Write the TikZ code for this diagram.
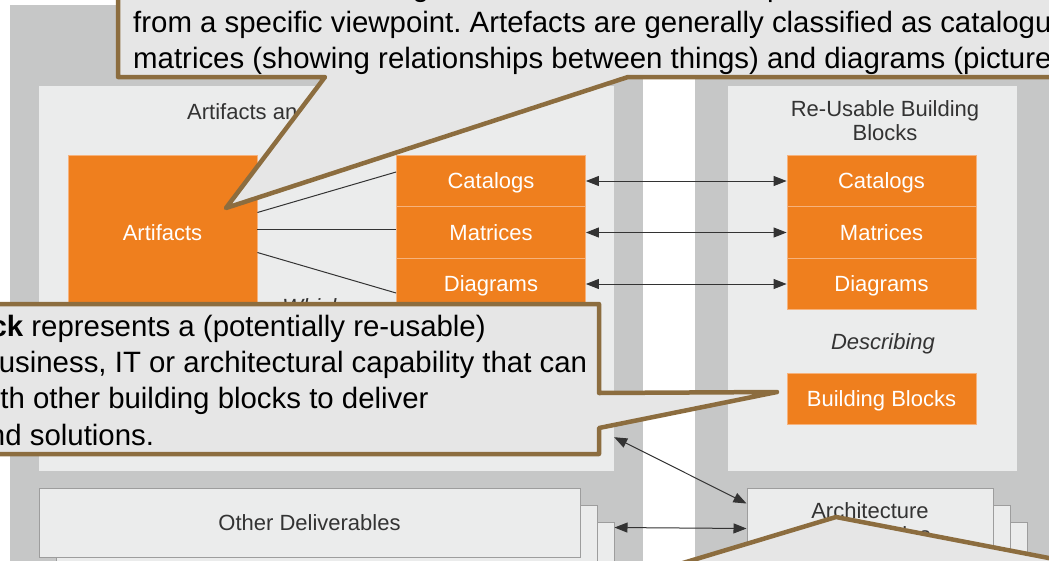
\documentclass[tikz,border=0pt]{standalone}
\usepackage{fontspec}
\setmainfont{Liberation Sans}
\usetikzlibrary{arrows.meta}
\frenchspacing

\definecolor{panelgray}{HTML}{C6C7C7}
\definecolor{panellight}{HTML}{EBECEC}
\definecolor{boxorange}{HTML}{EF7F1E}
\definecolor{rowline}{HTML}{F6B27C}
\definecolor{pageline}{HTML}{9D9D9D}
\definecolor{calloutfill}{HTML}{E6E6E6}
\definecolor{calloutline}{HTML}{8C6D3F}
\definecolor{inkgray}{HTML}{333333}

\begin{document}
\begin{tikzpicture}[x=1pt, y=-1pt,
panel/.style={fill=panelgray, draw=none, inner sep=0pt},
subpanel/.style={fill=panellight, draw=none, inner sep=0pt},
orangebox/.style={fill=boxorange, draw=rowline, line width=0.8pt, text=white, font=\fontsize{22}{24}\selectfont, text height=15.8pt, text depth=0pt, minimum width=189pt, minimum height=51.7pt, inner sep=0pt},
pagebox/.style={fill=panellight, draw=pageline, line width=1pt, text=inkgray, font=\fontsize{22}{24}\selectfont, align=center, inner sep=0pt},
heading/.style={text=inkgray, font=\fontsize{22}{24}\selectfont, align=center, inner sep=0pt},
linkword/.style={text=inkgray, font=\fontsize{22}{24}\selectfont\itshape, align=center, inner sep=0pt},
link/.style={draw=inkgray, line width=1pt},
biarrow/.style={draw=inkgray, line width=1pt, {Triangle[length=13pt,width=10pt]}-{Triangle[length=13pt,width=10pt]}},
callout/.style={fill=calloutfill, draw=calloutline, line width=4.5pt, line join=round},
callouttext/.style={font=\fontsize{29.4}{36.2}\selectfont, align=left, inner sep=0pt, anchor=north west}
]
    \useasboundingbox (0,0) rectangle (1049,560);
    \clip (0,0) rectangle (1049,560);

    % background panels
    \node[panel, minimum width=633pt, minimum height=600pt] (leftbg) at (326.5,305) {};
    \node[panel, minimum width=365pt, minimum height=600pt] (rightbg) at (877.5,305) {};
    \node[subpanel, minimum width=575pt, minimum height=385pt] (innerL) at (326.5,278.5) {};
    \node[subpanel, minimum width=289pt, minimum height=385pt] (innerR) at (872.5,278.5) {};

    \node[heading] (titleL) at (326,114) {Artifacts and Building Blocks};
    \node[heading] (titleR) at (885,121) {Re-Usable Building\\Blocks};

    \node[orangebox, minimum height=155pt] (art) at (162.5,232.5) {Artifacts};
    \node[orangebox] (catL) at (491,181) {Catalogs};
    \node[orangebox] (matL) at (491,232.5) {Matrices};
    \node[orangebox] (diaL) at (491,284) {Diagrams};

    \node[orangebox] (catR) at (881.5,181) {Catalogs};
    \node[orangebox] (matR) at (881.5,232.5) {Matrices};
    \node[orangebox] (diaR) at (881.5,284) {Diagrams};
    \node[linkword] (descr) at (883,344) {Describing};
    \node[orangebox, minimum height=51pt] (bbR) at (881.5,398.5) {Building Blocks};

    \node[linkword, anchor=north] (which) at (313,298) {Which\\describe};

    % page stacks
    \node[pagebox, minimum width=541pt, minimum height=69pt] (othC) at (343.5,556.5) {};
    \node[pagebox, minimum width=541pt, minimum height=69pt] (othB) at (326.5,539.5) {};
    \node[pagebox, minimum width=541pt, minimum height=69pt] (othA) at (309.5,522.5) {Other Deliverables};
    \node[pagebox, minimum width=246pt, minimum height=69pt] (archC) at (904,556.5) {};
    \node[pagebox, minimum width=246pt, minimum height=69pt] (archB) at (887,539.5) {};
    \node[pagebox, minimum width=246pt, minimum height=69pt] (archA) at (870,522.5) {Architecture\\Deliverables};

    \draw[link] ([yshift=20pt]art.east) -- ([yshift=9pt]catL.west);
    \draw[link] ([yshift=3pt]art.east) -- ([yshift=3pt]matL.west);
    \draw[link] ([yshift=-20pt]art.east) -- ([yshift=-9pt]diaL.west);

    \draw[biarrow] (catL.east) -- (catR.west);
    \draw[biarrow] (matL.east) -- (matR.west);
    \draw[biarrow] (diaL.east) -- (diaR.west);
    \draw[biarrow] ([yshift=34pt]innerL.south east) -- ([yshift=-16pt]archA.north west);
    \draw[biarrow] ([yshift=-6pt]othC.north east) -- ([yshift=-6pt]archA.west);

    % callouts
    \draw[callout] (118,-40) -- (118,77) -- (325,77) -- (226,208) -- (628,77) -- (1100,77) -- (1100,-40) -- cycle;
    \node[callouttext] (artnote) at (133,-25) {An artefact is a more granular architectural work product that describes an architecture\\from a specific viewpoint. Artefacts are generally classified as catalogues (lists of things),\\matrices (showing relationships between things) and diagrams (pictures of things).};

    \draw[callout] (-250,304) -- (599,304) -- (599,393) -- (777,392) -- (599,428) -- (599,454) -- (-250,454) -- cycle;
    \node[callouttext] (bbnote) at (-204,315) {A \textbf{building block} represents a (potentially re-usable)\\component of business, IT or architectural capability that can\\be combined with other building blocks to deliver\\architectures and solutions.};

    \draw[callout] (300,575) -- (643,575) -- (836,517) -- (1137,575) -- (1300,575) -- (1300,700) -- (300,700) -- cycle;
\end{tikzpicture}
\end{document}
